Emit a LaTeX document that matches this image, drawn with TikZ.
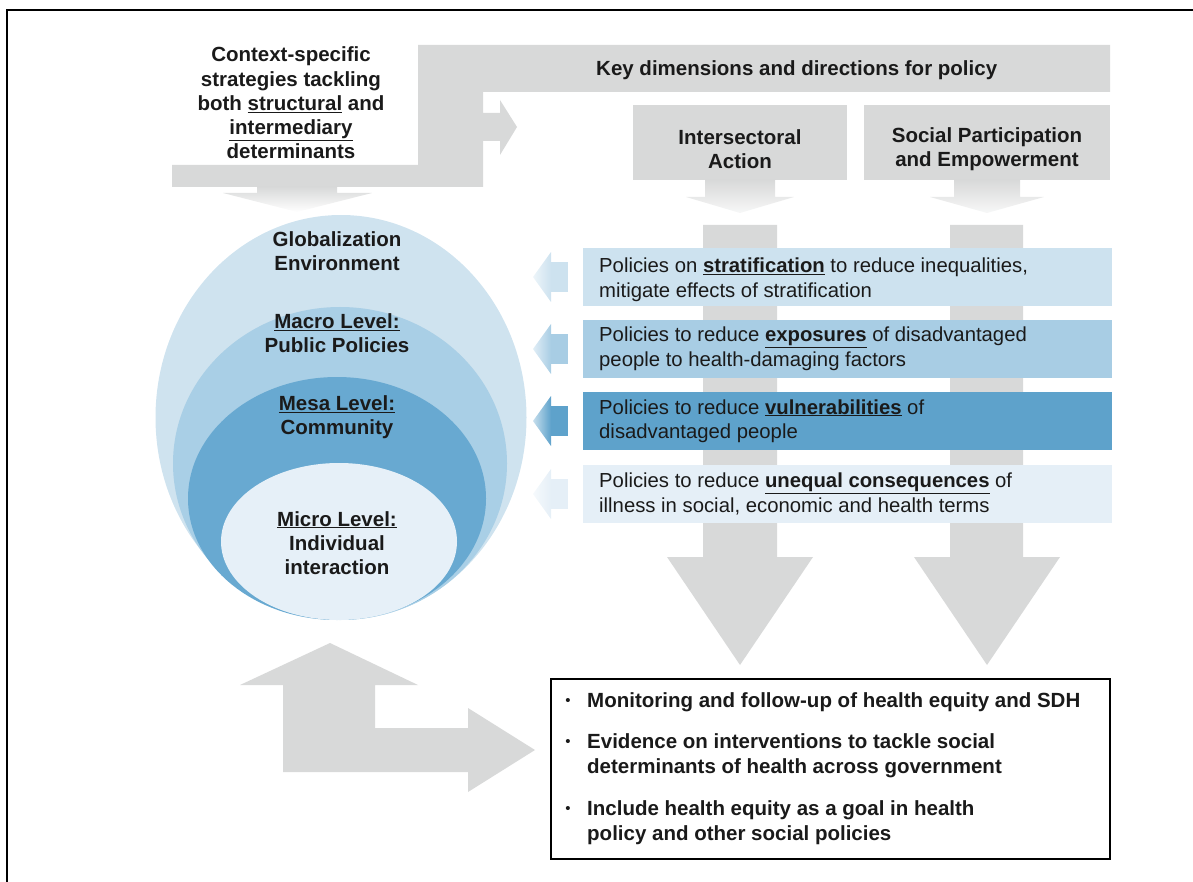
\documentclass[tikz,border=0pt]{standalone}
\usepackage{fontspec}
\setmainfont{Liberation Sans}
\definecolor{gbar}{HTML}{D8D9D9}
\definecolor{txt}{HTML}{1A1A1A}
\definecolor{cGlob}{HTML}{CFE3EF}
\definecolor{cMacro}{HTML}{A9CFE6}
\definecolor{cMesa}{HTML}{68A9D1}
\definecolor{cMicro}{HTML}{E6F0F8}
\definecolor{pA}{HTML}{CDE2EF}
\definecolor{pB}{HTML}{A8CDE4}
\definecolor{pC}{HTML}{5EA2CB}
\definecolor{pD}{HTML}{E5EFF7}
\begin{document}
\begin{tikzpicture}[x=1pt,y=-1pt,
  lbl/.style={font=\fontsize{20.5}{24.3}\selectfont\bfseries, text=txt, align=center, inner sep=0pt},
  pol/.style={font=\fontsize{20.3}{24.5}\selectfont, text=txt, align=left, anchor=west, inner sep=0pt},
  blt/.style={font=\fontsize{20.5}{25}\selectfont\bfseries, text=txt, align=left, anchor=west, inner sep=0pt},
  dot/.style={font=\fontsize{15}{15}\selectfont, text=txt, inner sep=0pt},
  polbox/.style={inner sep=0pt, minimum width=529pt, minimum height=58pt, anchor=north west}]
\path[use as bounding box] (0,0) rectangle (1193,882);
% frame
\draw[line width=1.6pt] (7,882) -- (7,10) -- (1193,10);

% top composite grey shape
\fill[gbar] (172,165) -- (418,165) -- (418,45) -- (1110,45) -- (1110,92) -- (483,92)
  -- (483,113) -- (500,113) -- (500,100) -- (517,127) -- (500,155) -- (500,141)
  -- (483,141) -- (483,187) -- (172,187) -- cycle;
% faded arrow down to ellipse
\shade[top color=gbar, bottom color=white] (257,187) -- (337,187) -- (337,193) -- (372,193)
  -- (297,212) -- (223,193) -- (257,193) -- cycle;

% heading boxes
\fill[gbar] (633,105) rectangle (847,180);
\fill[gbar] (864,105) rectangle (1110,180);
\shade[top color=gbar, bottom color=gbar!20] (705,180) -- (775,180) -- (775,197) -- (794,197)
  -- (740,213) -- (686,197) -- (705,197) -- cycle;
\shade[top color=gbar, bottom color=gbar!20] (954,180) -- (1020,180) -- (1020,197) -- (1044,197)
  -- (987,213) -- (930,197) -- (954,197) -- cycle;

% columns with big arrowheads
\fill[gbar] (703,225) -- (777,225) -- (777,557) -- (813,557) -- (740,665) -- (667,557) -- (703,557) -- cycle;
\fill[gbar] (950,225) -- (1023,225) -- (1023,557) -- (1060,557) -- (987,665) -- (914,557) -- (950,557) -- cycle;

% ellipses
\fill[cGlob]  (341,417.5) ellipse [x radius=185.5, y radius=202.5];
\fill[cMacro] (340,463.5) ellipse [x radius=167, y radius=156.5];
\fill[cMesa]  (337,498.5) ellipse [x radius=149, y radius=121.5];
\fill[cMicro] (339,541.5) ellipse [x radius=118, y radius=78.5];

% policy boxes
\node[polbox, fill=pA] (pa) at (583,248) {};
\node[polbox, fill=pB] (pb) at (583,320) {};
\node[polbox, fill=pC] (pc) at (583,392) {};
\node[polbox, fill=pD] (pd) at (583,465) {};

% left arrows
\foreach \t/\c in {248/pA,320/pB,392/pC,465/pD}{
  \fill[\c] (550,\t+14) rectangle (568,\t+44);
  \shade[left color=\c!35, right color=\c] (551,\t+4) -- (533,\t+29) -- (551,\t+54) -- cycle;
}

% bottom-left double arrow
\fill[gbar] (330,643) -- (418,685) -- (375,685) -- (375,728) -- (468,728) -- (468,708)
  -- (535,750) -- (468,792) -- (468,772) -- (283,772) -- (283,685) -- (240,685) -- cycle;

% bottom box
\draw[line width=1.8pt, fill=white] (551,679) rectangle (1110,859);

% texts
\node[lbl] (ctx) at (291,103) {Context-specific\\strategies tackling\\both \underline{structural} and\\\underline{intermediary}\\determinants};
\node[lbl, anchor=west] (key) at (596,70) {Key dimensions and directions for policy};
\node[lbl] (inter) at (740,149) {Intersectoral\\Action};
\node[lbl] (soc) at (987,149) {Social Participation\\and Empowerment};

\node[lbl] (glob) at (337,251) {Globalization\\Environment};
\node[lbl] (macro) at (337,333) {\underline{Macro Level:}\\Public Policies};
\node[lbl] (mesa) at (337,417) {\underline{Mesa Level:}\\Community};
\node[lbl] (micro) at (337,543) {\underline{Micro Level:}\\Individual\\interaction};

\node[pol] (ta) at (599,280) {Policies on \textbf{\underline{stratification}} to reduce inequalities,\\mitigate effects of stratification};
\node[pol] (tb) at (599,349) {Policies to reduce \textbf{\underline{exposures}} of disadvantaged\\people to health-damaging factors};
\node[pol] (tc) at (599,421) {Policies to reduce \textbf{\underline{vulnerabilities}} of\\disadvantaged people};
\node[pol] (td) at (599,494) {Policies to reduce \textbf{\underline{unequal consequences}} of\\illness in social, economic and health terms};

\node[dot] (d1) at (568,702) {•};
\node[blt] (b1) at (587,702) {Monitoring and follow-up of health equity and SDH};
\node[dot] (d2) at (568,743) {•};
\node[blt] (b2) at (587,756) {Evidence on interventions to tackle social\\determinants of health across government};
\node[dot] (d3) at (568,810) {•};
\node[blt] (b3) at (587,823) {Include health equity as a goal in health\\policy and other social policies};
\end{tikzpicture}
\end{document}
